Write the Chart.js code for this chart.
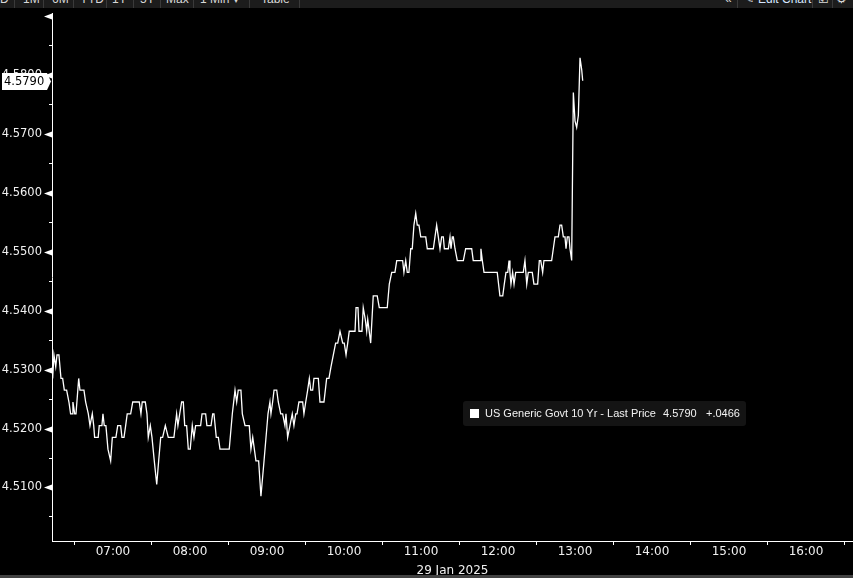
<!DOCTYPE html>
<html>
<head>
<meta charset="utf-8">
<script src="https://cdn.jsdelivr.net/npm/chart.js@4.4.0/dist/chart.umd.min.js"></script>
<style>
  html, body { margin: 0; padding: 0; background: #000; }
  #wrap { position: relative; width: 853px; height: 578px; overflow: hidden; background: #000; }
  #chart { position: absolute; left: 0; top: 0; }
  #topbar { position: absolute; left: 0; top: 0; width: 853px; height: 8px; background: #1c1c1c; overflow: hidden;
            font: 12px "Liberation Sans", Arial, sans-serif; color: #d8d8d8; }
  #topbar span { position: absolute; top: -7px; line-height: 12px; white-space: nowrap; }
  #topbar i { position: absolute; top: 0; width: 1px; height: 8px; background: #3a3a3a; }
  #legend { position: absolute; left: 463px; top: 401px; width: 283px; height: 25px; background: #141414; border-radius: 3px;
            font: 11px "Liberation Sans", Arial, sans-serif; color: #f2f2f2; }
  #legend .sq { position: absolute; left: 7px; top: 8px; width: 9px; height: 9px; background: #fff; }
  #legend span { position: absolute; top: 0; line-height: 25px; white-space: nowrap; }
  #bottombar { position: absolute; left: 0; top: 575px; width: 853px; height: 3px; background: #424242; }
</style>
</head>
<body>
<div id="wrap">
  <canvas id="chart" width="853" height="578"></canvas>
  <div id="topbar">
    <span style="left:0">D</span><i style="left:14px"></i>
    <span style="left:23px">1M</span><i style="left:43px"></i>
    <span style="left:52px">6M</span><i style="left:73px"></i>
    <span style="left:80px">YTD</span><i style="left:106px"></i>
    <span style="left:112px">1Y</span><i style="left:133px"></i>
    <span style="left:140px">5Y</span><i style="left:160px"></i>
    <span style="left:166px">Max</span><i style="left:193px"></i>
    <span style="left:200px">1 Min ▾</span><i style="left:249px"></i>
    <span style="left:261px">Table</span><i style="left:299px"></i>
    <span style="left:725px">«</span><i style="left:737px"></i>
    <span style="left:744px">✎</span>
    <span style="left:758px;color:#d6e6ff">Edit Chart</span><i style="left:812px"></i>
    <span style="left:818px">☑</span><i style="left:832px"></i>
    <span style="left:836px">⚙</span>
  </div>
  <div id="legend">
    <div class="sq"></div>
    <span style="left:22px">US Generic Govt 10 Yr - Last Price</span>
    <span id="lgLast" style="left:200px"></span>
    <span id="lgChg" style="left:243px"></span>
  </div>
  <div id="bottombar"></div>
</div>
<script>
// minutes after midnight, 29 Jan 2025
var times = [
  373.0,374.0,375.4,376.4,377.9,379.5,380.8,382.1,383.9,385.7,
  387.0,388.1,388.8,390.2,391.2,393.3,394.3,397.4,398.7,400.8,
  402.1,403.9,405.0,405.7,408.5,409.3,411.4,412.2,413.2,414.5,
  416.1,418.2,419.5,422.3,423.7,426.0,427.0,428.6,429.9,431.1,
  433.8,435.4,440.5,441.8,442.8,445.2,446.5,447.5,449.1,450.4,
  452.2,454.1,455.6,457.2,458.7,460.8,463.1,467.5,469.6,470.6,
  472.0,473.5,474.8,475.9,477.4,478.7,480.2,481.8,483.1,484.4,
  488.3,489.4,492.2,493.2,496.4,497.7,498.7,500.5,502.1,503.4,
  510.6,513.0,515.1,516.4,517.6,519.7,520.8,522.9,526.2,527.5,
  528.9,531.4,533.5,535.3,537.7,540.8,542.3,543.1,544.4,545.5,
  547.6,548.8,550.7,552.2,554.0,554.8,556.1,557.9,559.7,561.0,
  562.4,563.4,564.9,567.8,568.8,570.2,571.7,573.0,574.1,575.6,
  576.6,580.0,581.3,584.4,586.5,588.3,589.9,591.7,593.5,595.1,
  596.9,599.0,600.2,601.6,602.9,604.1,608.6,609.4,610.9,611.7,
  614.0,615.0,616.6,617.7,618.5,620.8,622.8,625.9,627.5,633.7,
  635.3,637.2,639.7,641.1,645.7,646.7,648.1,649.3,650.6,652.0,
  653.2,654.5,655.9,657.1,658.4,659.8,663.7,664.9,669.6,670.9,
  672.2,673.5,674.8,676.1,677.4,678.2,681.3,682.6,683.4,684.4,
  685.2,686.5,688.3,693.0,694.8,699.5,700.7,706.0,706.7,707.8,
  709.1,719.4,721.5,723.7,724.9,726.2,727.6,728.6,729.3,730.1,
  731.4,732.5,733.8,739.7,741.0,742.4,743.6,746.7,748.0,750.9,
  752.2,753.3,754.8,755.8,761.8,763.1,764.4,767.0,768.3,769.6,
  770.9,772.2,773.0,774.0,775.3,776.1,777.4,778.7,780.0,781.3,
  782.6,783.9,785.2,786.0
];
var yields = [
  4.5285,4.5325,4.5305,4.5325,4.5325,4.5285,4.5285,4.5265,4.5265,4.5245,
  4.5225,4.5225,4.5245,4.5225,4.5225,4.5285,4.5265,4.5265,4.5245,4.5225,
  4.5205,4.5225,4.5205,4.5185,4.5185,4.5205,4.5205,4.5225,4.5205,4.5205,
  4.5165,4.5145,4.5185,4.5185,4.5205,4.5205,4.5185,4.5185,4.5205,4.5225,
  4.5225,4.5245,4.5245,4.5225,4.5245,4.5245,4.5225,4.5185,4.5205,4.5185,
  4.5145,4.5105,4.5145,4.5185,4.5185,4.5205,4.5185,4.5185,4.5225,4.5205,
  4.5225,4.5245,4.5245,4.5205,4.5205,4.5165,4.5165,4.5205,4.5185,4.5205,
  4.5205,4.5225,4.5225,4.5205,4.5205,4.5225,4.5225,4.5185,4.5185,4.5165,
  4.5165,4.5225,4.5265,4.5245,4.5265,4.5265,4.5225,4.5205,4.5205,4.5165,
  4.5185,4.5145,4.5145,4.5085,4.5145,4.5225,4.5245,4.5225,4.5245,4.5265,
  4.5265,4.5245,4.5225,4.5225,4.5205,4.5225,4.5185,4.5205,4.5225,4.5205,
  4.5225,4.5225,4.5245,4.5245,4.5225,4.5245,4.5265,4.5285,4.5265,4.5265,
  4.5285,4.5285,4.5245,4.5245,4.5285,4.5285,4.5305,4.5325,4.5345,4.5345,
  4.5365,4.5345,4.5345,4.5325,4.5345,4.5365,4.5365,4.5405,4.5405,4.5365,
  4.5365,4.5405,4.5385,4.5365,4.5385,4.5345,4.5425,4.5425,4.5405,4.5405,
  4.5445,4.5465,4.5465,4.5485,4.5485,4.5465,4.5485,4.5465,4.5465,4.5505,
  4.5505,4.5545,4.5565,4.5545,4.5545,4.5525,4.5525,4.5505,4.5505,4.5525,
  4.5545,4.5525,4.5505,4.5525,4.5525,4.5505,4.5505,4.5525,4.5505,4.5525,
  4.5525,4.5505,4.5485,4.5485,4.5505,4.5505,4.5485,4.5485,4.5505,4.5485,
  4.5465,4.5465,4.5425,4.5425,4.5445,4.5465,4.5465,4.5485,4.5465,4.5445,
  4.5465,4.5445,4.5465,4.5465,4.5485,4.5445,4.5465,4.5465,4.5445,4.5445,
  4.5485,4.5485,4.5465,4.5485,4.5485,4.5505,4.5525,4.5525,4.5545,4.5545,
  4.5525,4.5525,4.5505,4.5525,4.5525,4.5505,4.5485,4.5770,4.5722,4.5711,
  4.5731,4.5829,4.5809,4.5790
];
var seriesName = 'US Generic Govt 10 Yr - Last Price';
var netChange = '+.0466';
var dateLabel = '29 Jan 2025';

var lastYield = yields[yields.length - 1];
document.getElementById('lgLast').textContent = lastYield.toFixed(4);
document.getElementById('lgChg').textContent = netChange;

function isMajor(v) { return Math.round(v * 1000) % 10 === 0; }

// white arrows on the y axis + last price tag
var axisMarks = {
  id: 'axisMarks',
  afterDraw: function(chart) {
    var ctx = chart.ctx, ys = chart.scales.y, x0 = ys.right;
    ctx.save();
    ctx.fillStyle = '#ffffff';
    ys.ticks.forEach(function(t) {
      if (!isMajor(t.value)) return;
      var py = Math.round(ys.getPixelForValue(t.value)) + 0.5;
      ctx.beginPath();
      ctx.moveTo(x0, py - 3);
      ctx.lineTo(x0, py + 3);
      ctx.lineTo(x0 - 8, py);
      ctx.closePath();
      ctx.fill();
    });
    var ly = Math.round(ys.getPixelForValue(lastYield)) + 0.5;
    ctx.beginPath();
    ctx.moveTo(2, ly - 8.5);
    ctx.lineTo(47, ly - 8.5);
    ctx.lineTo(51, ly);
    ctx.lineTo(47, ly + 8.5);
    ctx.lineTo(2, ly + 8.5);
    ctx.closePath();
    ctx.fill();
    ctx.fillStyle = '#000';
    ctx.font = '11.5px "DejaVu Sans"';
    ctx.textAlign = 'left';
    ctx.textBaseline = 'middle';
    ctx.fillText(lastYield.toFixed(4), 4, ly + 0.5);
    ctx.restore();
  }
};

new Chart(document.getElementById('chart').getContext('2d'), {
  type: 'line',
  data: {
    datasets: [{
      label: seriesName,
      data: times.map(function(t, i) { return { x: t, y: yields[i] }; }),
      borderColor: '#ffffff',
      borderWidth: 1.3,
      pointRadius: 0,
      tension: 0,
      fill: false
    }]
  },
  options: {
    responsive: false,
    animation: false,
    events: [],
    layout: { padding: { top: 9, left: 0, right: 0, bottom: 0 } },
    plugins: { legend: { display: false }, tooltip: { enabled: false } },
    scales: {
      x: {
        type: 'linear',
        min: 372.5,
        max: 996.6,
        afterFit: function(s) { s.height = 37; },
        border: { display: true, color: '#ffffff', width: 1 },
        grid: {
          drawOnChartArea: false,
          tickLength: 4,
          tickColor: function(c) { return (c.tick && c.tick.value % 60 === 0) ? 'rgba(0,0,0,0)' : '#ffffff'; }
        },
        ticks: {
          stepSize: 30,
          includeBounds: false,
          autoSkip: false,
          maxRotation: 0,
          padding: 0,
          color: '#f0f0f0',
          font: { family: '"DejaVu Sans"', size: 12 },
          callback: function(v) {
            if (v % 60 !== 0) return '';
            var h = Math.floor(v / 60);
            return (h < 10 ? '0' : '') + h + ':00';
          }
        },
        title: {
          display: true,
          text: dateLabel,
          color: '#f0f0f0',
          font: { family: '"DejaVu Sans"', size: 12 },
          padding: { top: 0, bottom: 0 }
        }
      },
      y: {
        type: 'linear',
        min: 4.50092,
        max: 4.59034,
        afterFit: function(s) { s.width = 52; },
        border: { display: true, color: '#ffffff', width: 1 },
        grid: {
          drawOnChartArea: false,
          tickLength: 3,
          tickColor: function(c) { return (c.tick && isMajor(c.tick.value)) ? 'rgba(0,0,0,0)' : '#ffffff'; }
        },
        ticks: {
          stepSize: 0.005,
          includeBounds: false,
          autoSkip: false,
          padding: 7,
          color: '#f0f0f0',
          font: { family: '"DejaVu Sans"', size: 11.5 },
          callback: function(v) {
            if (!isMajor(v) || v > 4.585) return '';
            return v.toFixed(4);
          }
        }
      }
    }
  },
  plugins: [axisMarks]
});
</script>
</body>
</html>
